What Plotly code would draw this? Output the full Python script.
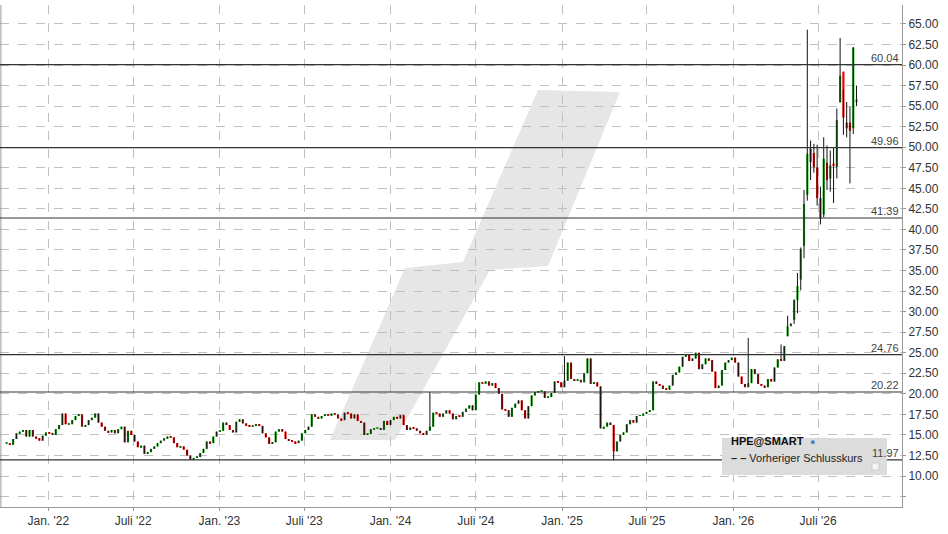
import pandas as pd
import plotly.graph_objs as go

# weekly closes
closes_a = [
    13.9, 13.8, 14.5, 15.2, 15.4, 15.6, 14.8, 15.6, 14.8, 14.6,
    14.3, 14.9, 15.3, 15.2, 15.0, 15.7, 16.2, 17.6, 16.3, 16.3,
    16.8, 17.3, 17.5, 16.0, 16.2, 16.8, 17.1, 17.6, 16.5, 16.0,
    15.5, 15.3, 15.6, 15.2, 15.7, 16.0, 14.1, 15.5, 15.0, 14.2,
    13.5, 13.7, 12.7, 12.9, 13.3, 13.6, 14.0, 14.3, 14.6, 14.8,
    14.7, 14.0, 13.5, 13.6, 13.2, 12.5, 12.0, 12.2, 12.3, 12.8,
    13.3, 14.2, 14.0, 14.8, 15.4, 15.5, 16.5, 16.2, 15.6, 15.3,
    16.6, 16.9, 16.4, 16.2, 16.0, 16.1, 16.3, 16.1, 15.2, 14.7,
    13.9, 14.1, 15.4, 15.7, 15.4, 14.5, 14.3, 14.2, 14.0, 14.3,
    15.2, 15.6, 16.0, 17.5, 17.2, 17.0, 17.3, 17.5,
]
closes_b = [
    17.4, 17.6, 17.5, 17.0, 16.8, 17.7, 17.6, 17.0, 17.5, 16.7,
    16.5, 15.0, 15.1, 15.7, 15.8, 15.8, 15.6, 16.7, 16.2, 16.8,
    17.2, 17.0, 17.4, 16.2, 15.6, 15.9, 15.8, 15.5, 15.2, 15.0,
    15.5, 16.0, 17.7, 17.6, 17.2, 17.6, 18.0, 17.6, 16.9, 17.3,
    17.2, 17.8, 18.2, 18.6, 18.0, 19.9, 21.4, 21.3, 21.5, 21.0,
    21.3, 20.7, 20.0, 18.1, 18.0, 17.2, 18.3, 18.8, 19.2, 18.0,
    17.0, 18.5, 19.8, 20.2, 20.3, 20.3, 19.5, 19.6, 20.1, 21.5,
    21.4, 20.8, 21.6, 23.8, 21.8, 21.6, 21.7, 21.4, 22.5, 24.3,
    21.2, 21.4, 20.9, 15.8, 16.0, 16.5, 16.2, 13.0,
]
closes_c = [
    14.2, 15.0, 15.3, 16.3, 16.8, 16.5, 17.3, 17.4, 17.6, 17.8, 18.0,
    21.5, 21.2, 21.0, 20.6, 20.5, 21.0, 22.3, 22.6, 23.3, 24.5,
    24.8, 24.0, 24.3, 25.0, 23.0, 23.6, 24.3, 24.1, 22.7, 20.7,
    21.0, 22.9, 23.8, 24.1, 24.4, 23.8, 22.1, 21.2, 20.8, 21.3,
    23.0, 22.4, 21.2, 21.0, 20.8, 21.8, 21.5, 23.2, 24.2, 24.0, 25.8,
]
closes_d = [
    28.2, 28.5, 31.4, 33.1, 37.6, 43.1, 49.2, 48.2, 47.6, 43.8, 41.3,
    48.6, 46.0, 47.8, 47.8, 53.3, 58.7, 53.6, 52.3, 52.0, 62.1, 55.8,
]
opens_d = [
    27.0, 28.3, 29.0, 31.4, 33.9, 38.0, 44.2, 49.8, 49.3, 47.5, 43.8,
    41.8, 48.1, 46.2, 48.0, 47.6, 55.5, 59.2, 53.0, 53.0, 52.3, 55.5,
]
highs_d = [
    29.5, 28.6, 31.5, 34.7, 37.8, 44.8, 64.3, 50.8, 50.4, 50.3, 45.2,
    51.2, 50.2, 49.6, 50.0, 54.7, 63.3, 57.0, 55.5, 54.9, 62.2, 57.5,
]
lows_d = [
    27.0, 28.2, 28.5, 29.8, 32.6, 36.5, 43.5, 46.0, 46.9, 42.9, 40.6,
    41.5, 44.8, 44.6, 43.2, 46.2, 55.4, 51.5, 51.2, 45.6, 51.6, 55.0,
]
# a few notable wicks outside the last stretch: (week index, value)
extra_highs = [(129, 20.2), (170, 24.6), (226, 26.8), (236, 26.0)]
extra_lows = [(185, 11.9)]

levels = [60.04, 49.96, 41.39, 24.76, 20.22, 11.97]
tick_dates = ["2022-01-01", "2022-07-01", "2023-01-01", "2023-07-01", "2024-01-01",
              "2024-07-01", "2025-01-01", "2025-07-01", "2026-01-01", "2026-07-01"]
tick_text = ["Jan. '22", "Juli '22", "Jan. '23", "Juli '23", "Jan. '24",
             "Juli '24", "Jan. '25", "Juli '25", "Jan. '26", "Juli '26"]

closes = closes_a + closes_b + closes_c + closes_d
n = len(closes)
dates = pd.date_range(end="2026-09-21", periods=n, freq="7D")
k = n - len(closes_d)
opens = [closes[0]] + closes[:-1]
opens[k:] = opens_d
highs = [max(o, c) for o, c in zip(opens, closes)]
lows = [min(o, c) for o, c in zip(opens, closes)]
highs[k:] = highs_d
lows[k:] = lows_d
for i, v in extra_highs:
    highs[i] = max(highs[i], v)
for i, v in extra_lows:
    lows[i] = min(lows[i], v)

W, H = 948, 534
L, R, T, B = 0, 46, 5, 27
PW, PH = W - L - R, H - T - B


def px(x):
    return (x - L) / PW


def py(y):
    return (H - B - y) / PH


fig = go.Figure()

# black wicks, drawn first
wx, wy = [], []
for d, h, l in zip(dates, highs, lows):
    wx += [d, d, None]
    wy += [l, h, None]
fig.add_trace(go.Scatter(x=wx, y=wy, mode="lines", line=dict(color="#111", width=1),
                         hoverinfo="skip", showlegend=False))

# bodies as floating bars
for up, color in [(True, "#0a9a0a"), (False, "#f00000")]:
    sel = [i for i in range(n) if (closes[i] >= opens[i]) == up]
    fig.add_trace(go.Bar(
        x=[dates[i] for i in sel],
        base=[min(opens[i], closes[i]) for i in sel],
        y=[max(abs(closes[i] - opens[i]), 0.12) for i in sel],
        width=4.6 * 86400000, marker=dict(color=color, line=dict(width=0)),
        showlegend=False,
    ))

# watermark
pts = [(330, 440), (395, 440), (490, 270), (548, 266), (620, 92),
       (538, 90), (463, 262), (405, 268)]
path = "M " + " L ".join(f"{px(a)},{py(b)}" for a, b in pts) + " Z"
shapes = [dict(type="path", path=path, xref="paper", yref="paper",
               fillcolor="#e6e6e6", line=dict(width=0), layer="below"),
          dict(type="line", xref="paper", yref="paper", x0=0.001, x1=0.001, y0=0, y1=1,
               line=dict(color="#999", width=1))]
annotations = []
for lv in levels:
    shapes.append(dict(type="line", xref="paper", yref="y", x0=0, x1=1, y0=lv, y1=lv,
                       line=dict(color="#333", width=1.2)))
    annotations.append(dict(xref="paper", yref="y", x=px(901), y=lv, text=f"{lv:.2f}",
                            showarrow=False, xanchor="right", yanchor="bottom", yshift=-1,
                            font=dict(size=11, color="#444")))

# legend box
shapes.append(dict(type="rect", xref="paper", yref="paper", x0=px(722), x1=px(887),
                   y0=py(475), y1=py(438), fillcolor="#dcdcdc", line=dict(width=0)))
shapes.append(dict(type="rect", xref="paper", yref="paper", x0=px(872), x1=px(879),
                   y0=py(470), y1=py(463), fillcolor="#f4f4f4", line=dict(color="#ccc", width=1)))
annotations.append(dict(xref="paper", yref="paper", x=px(729), y=py(449), text="<b>HPE@SMART</b>",
                        showarrow=False, xanchor="left", font=dict(size=11, color="#111")))
annotations.append(dict(xref="paper", yref="paper", x=px(808), y=py(449), text="●",
                        showarrow=False, xanchor="left", font=dict(size=9, color="#4a7fc0")))
annotations.append(dict(xref="paper", yref="paper", x=px(729), y=py(466),
                        text="<b>– –</b> Vorheriger Schlusskurs",
                        showarrow=False, xanchor="left", font=dict(size=11, color="#222")))

fig.update_layout(
    width=W, height=H, margin=dict(l=L, r=R, t=T, b=B),
    paper_bgcolor="white", plot_bgcolor="white", barmode="overlay",
    font=dict(family="Liberation Sans, Arial", size=12, color="#333"),
    shapes=shapes, annotations=annotations,
    xaxis=dict(type="date", range=["2021-09-20", "2026-12-27"],
               tickvals=tick_dates, ticktext=tick_text, showgrid=True, gridcolor="#c0c0c0",
               griddash="dash", showline=True, linecolor="#999", ticks="outside",
               ticklen=3, tickcolor="#999", automargin=False),
    yaxis=dict(side="right", range=[6.23, 67.3], tickvals=[x * 2.5 for x in range(3, 27)],
               ticktext=[""] + [f"{x * 2.5:.2f}" for x in range(4, 27)],
               showgrid=True, gridcolor="#c0c0c0", griddash="dash", showline=True,
               linecolor="#999", ticks="outside", ticklen=3, tickcolor="#999",
               zeroline=False, tickfont=dict(size=12), automargin=False),
)

fig.write_html("out.html", config={"displayModeBar": False},
               post_script="document.body.style.margin='0';")
